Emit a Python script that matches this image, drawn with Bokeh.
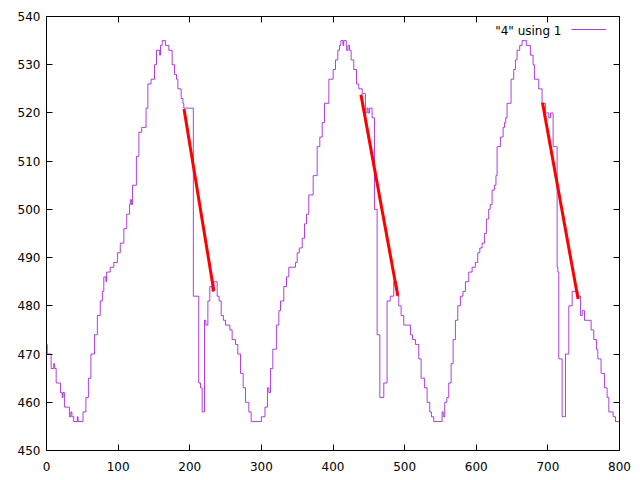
from bokeh.plotting import figure
from bokeh.models import (ColumnDataSource, Range1d, SingleIntervalTicker, LinearAxis,
                          Legend, LegendItem, Label)
from bokeh.embed import file_html
from bokeh.resources import INLINE

# level-change points of the sampled series ("4" using 1)
sample = [0, 1, 6.5, 10, 11.5, 13.5, 19.5, 22, 23, 25, 32, 34, 35.5, 38, 43, 44, 51, 55, 58.5, 62,
          67, 71, 75, 78, 80, 83, 84, 89, 94, 99, 103, 108, 112, 116, 117, 118.5, 120, 125.5, 129, 133,
          139, 141.5, 146, 150.8, 153.6, 158, 159.2, 161.5, 166, 170.8, 175.4, 178.7, 181.5, 183.4, 188, 190.5,
          191.7, 205, 212.5, 215, 217.3, 220.6, 222.5, 225.3, 228, 231, 233.6, 238.3, 241, 243.9, 247, 250,
          256, 259.2, 263.9, 267.1, 270.9, 274.6, 277.8, 282.5, 285.7, 300, 305, 308.5, 310.5, 312.7, 316, 321,
          324.4, 326.7, 331.3, 335.1, 338.3, 347.6, 350, 353, 357, 360.2, 363, 366.2, 372.3, 377.9, 381.6, 384.9,
          388.1, 394.2, 400.2, 403.5, 406.7, 409, 411, 414, 415, 418.5, 419, 421, 423, 425.3, 429, 432.8,
          436, 440.7, 445.3, 447.5, 449, 451, 454.6, 457.9, 461.6, 465.4, 470.9, 475.5, 480, 484.8, 489, 490.4,
          491.8, 495.1, 498.8, 508.1, 511, 515.1, 519.7, 523, 527.6, 531.4, 535.1, 537.4, 540.7, 552.3, 554, 556,
          559, 561.6, 564.9, 567.7, 570.9, 574.2, 577.9, 581.5, 584.9, 589.5, 594.2, 598.8, 602.1, 605, 608.1, 611.4,
          614.2, 617.4, 619.5, 622.1, 625.4, 627.5, 629.1, 633.7, 637.5, 639.5, 641.2, 643, 648.6, 652.3, 654.7, 657,
          660.7, 664, 670, 675.6, 679.3, 681.2, 687.2, 691.9, 696.6, 701.3, 703.6, 707.3, 712.9, 714, 715.2, 719.9,
          724.6, 729.2, 733.9, 742.2, 745.5, 748, 751.1, 760.4, 764.1, 767.8, 769.7, 774.3, 779, 782.7, 785.1, 791.1,
          794.4, 800]
value = [472, 470, 467, 468, 467, 464, 462, 461, 462, 459, 457, 458, 457, 456, 457, 456, 458, 461, 465, 470,
         474, 478, 481, 483, 486, 485, 487, 488, 489, 491, 493, 496, 499, 501, 502, 501, 505, 511, 516, 517,
         521, 526, 527, 530, 533, 532, 534, 535, 534, 533, 530, 528, 527, 525, 523, 522,
         521, 482, 464, 463, 458, 477, 476, 481, 484, 483, 485, 482, 481, 478, 477, 476,
         475, 473, 472, 470, 466, 463, 460, 458, 456, 457, 459, 463, 462, 467, 471, 476,
         479, 481, 484, 486, 488, 489, 491, 492, 494, 497, 499, 503, 507, 513, 515, 518,
         522, 527, 529, 531, 533, 534, 535, 534, 535, 534, 533, 534, 533, 531, 529, 526,
         525, 524, 520, 521, 520, 521, 519, 500, 474, 461, 464, 481, 482, 485, 484, 482,
         480, 478, 476, 474, 473, 472, 469, 465, 463, 460, 458, 457, 456, 458, 457, 460,
         461, 464, 468, 473, 477, 480, 482, 483, 485, 487, 488, 489, 491, 492, 493, 495,
         498, 500, 501, 504, 505, 507, 513, 515, 517, 518, 519, 522, 527, 529, 531, 533,
         534, 535, 534, 532, 530, 527, 525, 522, 520, 519, 520, 513, 488, 487, 469, 457,
         470, 480, 483, 482, 478, 479, 477, 475, 473, 471, 469, 466, 463, 461, 458, 457,
         456, 456]

# fitted falling segments (red)
fit_x0 = [192.0, 439.0, 692.5]
fit_y0 = [520.8, 523.8, 522.1]
fit_x1 = [233.6, 490.4, 742.2]
fit_y1 = [483.1, 482.1, 481.4]

x_ticks_interval = 100
y_ticks_interval = 10

FONT = "DejaVu Sans"

p = figure(width=640, height=480, output_backend="svg", toolbar_location=None,
           x_range=Range1d(0, 800), y_range=Range1d(450, 540),
           min_border_left=46, min_border_right=21, min_border_top=16, min_border_bottom=30,
           x_axis_type=None, y_axis_type=None)
p.background_fill_color = "white"
p.border_fill_color = "white"
p.outline_line_color = "black"
p.outline_line_width = 1
p.outline_line_alpha = 1.0


def make_axis(interval, labels=True):
    ax = LinearAxis(ticker=SingleIntervalTicker(interval=interval, num_minor_ticks=0))
    ax.axis_line_color = None
    ax.major_tick_in = 6
    ax.major_tick_out = 0
    ax.major_tick_line_color = "black"
    ax.minor_tick_line_color = None
    if labels:
        ax.major_label_text_font = FONT
        ax.major_label_text_font_size = "12px"
        ax.major_label_text_color = "black"
    else:
        ax.major_label_text_color = None
        ax.major_label_text_alpha = 0
        ax.major_label_text_font_size = "0px"
        ax.major_label_standoff = 0
    return ax


bottom = make_axis(x_ticks_interval)
bottom.major_label_standoff = 11
left = make_axis(y_ticks_interval)
left.major_label_standoff = 6
top = make_axis(x_ticks_interval, labels=False)
right = make_axis(y_ticks_interval, labels=False)
p.add_layout(bottom, "below")
p.add_layout(left, "left")
p.add_layout(top, "above")
p.add_layout(right, "right")

src = ColumnDataSource(dict(x=sample, y=value))
series = p.step(x="x", y="y", source=src, mode="after", line_color="#9400d3",
                line_width=1, line_alpha=0.75)

fit_src = ColumnDataSource(dict(x0=fit_x0, y0=fit_y0, x1=fit_x1, y1=fit_y1))
p.segment(x0="x0", y0="y0", x1="x1", y1="y1", source=fit_src, line_color="#ff0000", line_width=3)

legend = Legend(items=[LegendItem(label=" ", renderers=[series])], location=(525, 415),
                padding=0, margin=0, spacing=0, glyph_width=35, glyph_height=12,
                label_width=0, label_height=12, label_standoff=0,
                border_line_alpha=0, background_fill_alpha=0,
                label_text_font=FONT, label_text_font_size="12px")
p.add_layout(legend)

p.add_layout(Label(x=515, y=420, x_units="screen", y_units="screen", text='"4" using 1',
                   text_align="right", text_baseline="middle", text_font=FONT,
                   text_font_size="12px", text_color="black"))

open("out.html", "w").write(file_html(p, INLINE))
